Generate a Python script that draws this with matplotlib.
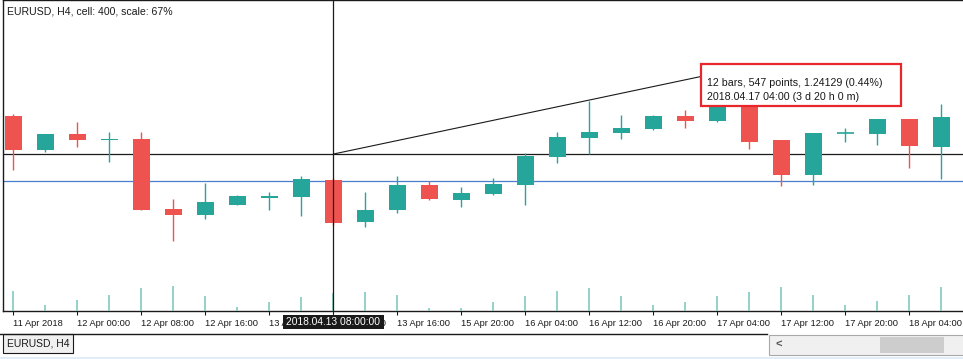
import matplotlib
matplotlib.use('Agg')
import matplotlib.pyplot as plt
from matplotlib.patches import Rectangle

plt.rcParams['font.family'] = ['Liberation Sans', 'DejaVu Sans']

# EURUSD H4 candles (open, high, low, close)
opens = [1.23839, 1.23609, 1.23717, 1.23677, 1.23683, 1.23211, 1.23170, 1.23238, 1.23285, 1.23292,
         1.23406, 1.23123, 1.23204, 1.23373, 1.23271, 1.23312, 1.23373, 1.23562, 1.23690, 1.23724,
         1.23751, 1.23839, 1.23805, 1.23920, 1.23677, 1.23440, 1.23724, 1.23717, 1.23818, 1.23629]
highs = [1.23852, 1.23717, 1.23798, 1.23731, 1.23731, 1.23278, 1.23386, 1.23305, 1.23325, 1.23433,
         1.23420, 1.23325, 1.23433, 1.23400, 1.23359, 1.23420, 1.23589, 1.23731, 1.23940, 1.23845,
         1.23845, 1.23879, 1.24129, 1.23920, 1.23677, 1.23724, 1.23758, 1.23818, 1.23818, 1.23920]
lows = [1.23474, 1.23596, 1.23629, 1.23528, 1.23204, 1.22994, 1.23143, 1.23238, 1.23204, 1.23163,
        1.23100, 1.23089, 1.23184, 1.23271, 1.23224, 1.23305, 1.23238, 1.23521, 1.23582, 1.23683,
        1.23744, 1.23758, 1.23798, 1.23616, 1.23366, 1.23373, 1.23663, 1.23643, 1.23487, 1.23413]
closes = [1.23609, 1.23717, 1.23677, 1.23683, 1.23204, 1.23170, 1.23258, 1.23298, 1.23298, 1.23413,
          1.23116, 1.23204, 1.23373, 1.23278, 1.23319, 1.23379, 1.23568, 1.23697, 1.23731, 1.23758,
          1.23839, 1.23805, 1.23920, 1.23663, 1.23440, 1.23724, 1.23724, 1.23818, 1.23636, 1.23832]
volumes = [2000, 570, 1100, 1600, 2300, 2500, 1500, 450, 950, 1450,
           1800, 1950, 1650, 270, 270, 870, 1470, 1970, 2270, 1470,
           570, 870, 1470, 1870, 2370, 1570, 570, 970, 1570, 2370]

tick_pos = list(range(0, 30, 2))
tick_labels = ['11 Apr 2018', '12 Apr 00:00', '12 Apr 08:00', '12 Apr 16:00', '13 Apr 00:00',
               '13 Apr 08:00', '13 Apr 16:00', '15 Apr 20:00', '16 Apr 04:00', '16 Apr 12:00',
               '16 Apr 20:00', '17 Apr 04:00', '17 Apr 12:00', '17 Apr 20:00', '18 Apr 04:00']

cross_bar, cross_price = 10, 1.23582
end_bar, end_price = 22, 1.24129
bid_price = 1.23400

UP = '#26a69a'
DOWN = '#ef5350'

W, H = 963, 359
fig = plt.figure(figsize=(W / 100, H / 100), dpi=100)
ax = fig.add_axes([3 / W, (H - 311) / H, 960 / W, 311 / H])
ax.set_xlim(-0.328, 29.672)
ax.set_ylim(1.22522, 1.24622)

ax.axhline(cross_price, color='#1a1a1a', lw=0.9, zorder=1)
ax.axhline(bid_price, color='#4a7fcf', lw=0.9, zorder=1)

for i, (o, h, l, c) in enumerate(zip(opens, highs, lows, closes)):
    col = UP if c >= o else DOWN
    ax.vlines(i, l, h, color=col, lw=1.0, zorder=3)
    if abs(c - o) < 0.00003:
        ax.hlines(o, i - 0.265, i + 0.265, color=col, lw=1.2, zorder=3)
    else:
        ax.bar(i, abs(c - o), bottom=min(o, c), width=0.53, color=col, lw=0, zorder=3)

ax.plot([cross_bar, end_bar], [cross_price, end_price], color='#1a1a1a', lw=0.8, zorder=4)

ax.set_yticks([])
ax.set_xticks(tick_pos)
ax.set_xticklabels(tick_labels)
for lab in ax.get_xticklabels():
    lab.set_ha('left')
ax.tick_params(axis='x', length=3, width=0.8, pad=3, labelsize=6.7, colors='#1a1a1a')
ax.spines['right'].set_visible(False)
for s in ['left', 'bottom', 'top']:
    ax.spines[s].set_color('#1a1a1a')
    ax.spines[s].set_linewidth(1.0)

# volumes
ax2 = ax.twinx()
ax2.set_ylim(0, 31100)
ax2.vlines(range(len(volumes)), 0, volumes, color='#7fcac1', lw=1.2)
ax2.axvline(cross_bar, color='#1a1a1a', lw=0.9, zorder=6)
ax2.set_yticks([])
for s in ax2.spines.values():
    s.set_visible(False)

# overlay in pixel coordinates for the terminal decorations
ui = fig.add_axes([0, 0, 1, 1])
ui.set_xlim(0, W)
ui.set_ylim(H, 0)
ui.axis('off')
ui.set_zorder(10)

ui.text(7, 11, 'EURUSD, H4, cell: 400, scale: 67%', fontsize=7.6, va='center', ha='left', color='#1a1a1a')

ui.add_patch(Rectangle((701, 64), 200, 42, facecolor='white', edgecolor='#e8262b', lw=1.6))
ui.text(707, 83, '12 bars, 547 points, 1.24129 (0.44%)', fontsize=7.7, va='center', color='#1a1a1a')
ui.text(707, 97, '2018.04.17 04:00 (3 d 20 h 0 m)', fontsize=7.7, va='center', color='#1a1a1a')

ui.add_patch(Rectangle((283, 315), 101, 14, facecolor='#1a1a1a', edgecolor='none'))
ui.text(333.5, 322, '2018.04.13 08:00:00', fontsize=7.4, va='center', ha='center', color='white')

ui.plot([0, 767], [333.5, 333.5], color='#1a1a1a', lw=1.0)
ui.add_patch(Rectangle((3, 334), 70, 19, facecolor='#f0f0f0', edgecolor='#1a1a1a', lw=0.8))
ui.text(7, 343.5, 'EURUSD, H4', fontsize=7.5, va='center', ha='left', color='#1a1a1a')

ui.add_patch(Rectangle((769, 335), 196, 20, facecolor='#f0f0f0', edgecolor='#a8a8a8', lw=0.8))
ui.text(775, 344.5, '<', fontsize=8, va='center', ha='left', color='#555555', fontweight='bold')
ui.add_patch(Rectangle((880, 337), 64, 16, facecolor='#cdcdcd', edgecolor='none'))
ui.add_patch(Rectangle((0, 356.5), W, 3, facecolor='#e1eefa', edgecolor='none'))

fig.savefig('out.png', dpi=100)
